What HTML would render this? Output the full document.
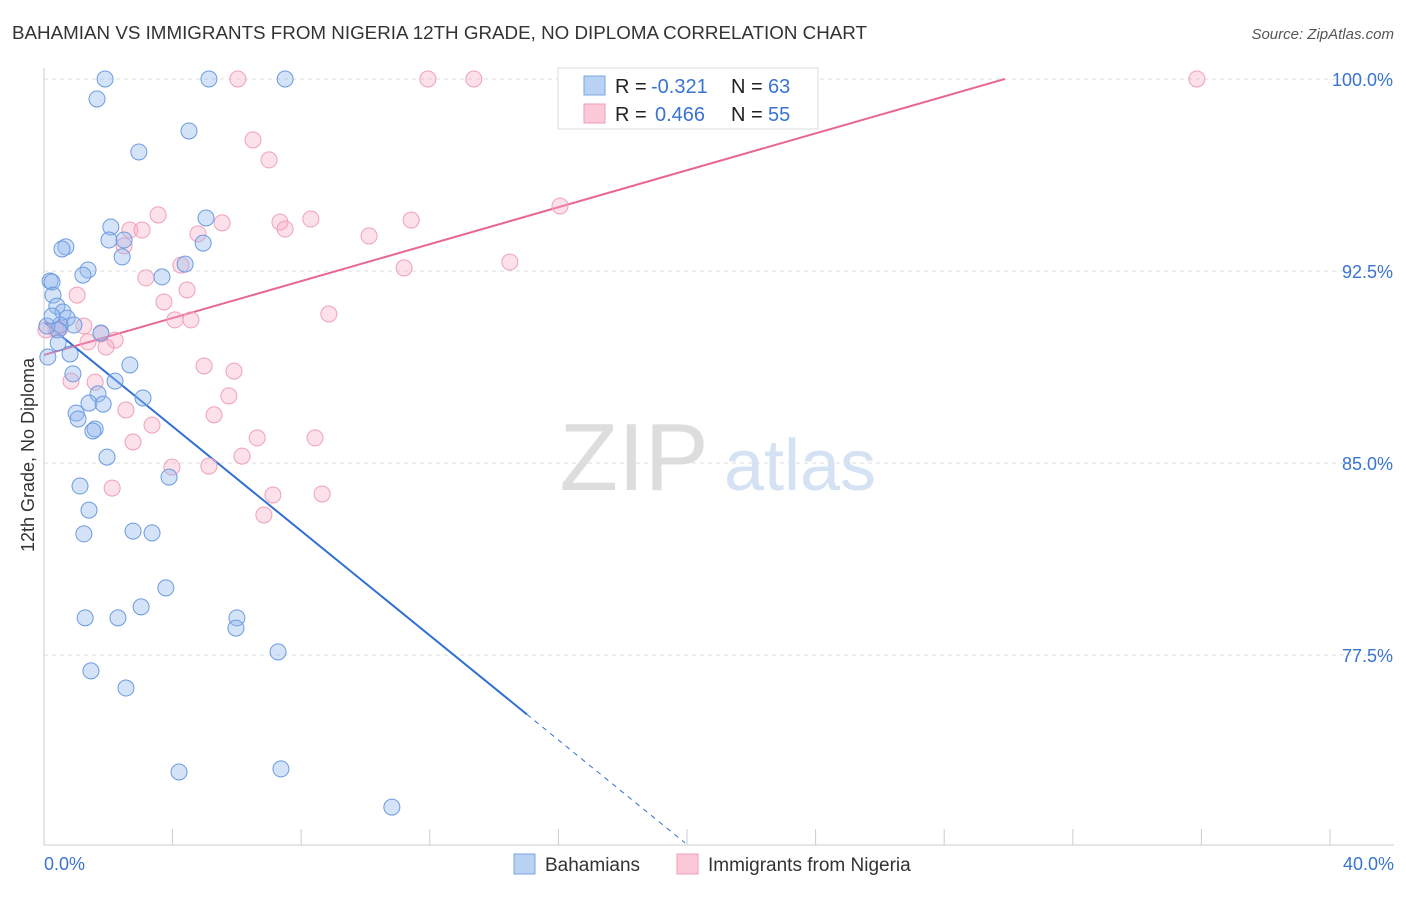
<!DOCTYPE html>
<html><head><meta charset="utf-8"><style>
body{margin:0;background:#fff;font-family:"Liberation Sans",sans-serif}
svg text{font-family:"Liberation Sans",sans-serif}
</style></head><body>
<svg id="chart" width="1406" height="892" viewBox="0 0 1406 892" xmlns="http://www.w3.org/2000/svg">
<text x="12" y="39" font-size="18" fill="#333" textLength="855" lengthAdjust="spacingAndGlyphs">BAHAMIAN VS IMMIGRANTS FROM NIGERIA 12TH GRADE, NO DIPLOMA CORRELATION CHART</text>
<text x="1394" y="39" font-size="15" fill="#555" text-anchor="end" font-style="italic">Source: ZipAtlas.com</text>
<g>
<text x="634" y="490" font-size="96" fill="#ddd" font-family="Liberation Serif" text-anchor="middle">ZIP</text>
<text x="800" y="490" font-size="72" fill="#d4e2f4" text-anchor="middle">atlas</text>
</g>
<g id="grid"></g><g id="axes"></g><g id="lines"></g><g id="pts"></g>
<text transform="translate(34,455) rotate(-90)" font-size="18" fill="#333" text-anchor="middle">12th Grade, No Diploma</text>
<g>
<rect x="558" y="68" width="260" height="61" fill="#fff" stroke="#ddd"/>
<rect x="584" y="76" width="21" height="19" fill="#b9d1f3" stroke="#7aa6e6"/>
<rect x="584" y="104" width="21" height="19" fill="#fcc9d8" stroke="#f09ab4"/>
<text x="615" y="93" font-size="20" fill="#222">R =</text>
<text x="651" y="93" font-size="20" fill="#3a74d0">-0.321</text>
<text x="731" y="93" font-size="20" fill="#222">N =</text>
<text x="768" y="93" font-size="20" fill="#3a74d0">63</text>
<text x="615" y="121" font-size="20" fill="#222">R =</text>
<text x="655" y="121" font-size="20" fill="#3a74d0">0.466</text>
<text x="731" y="121" font-size="20" fill="#222">N =</text>
<text x="768" y="121" font-size="20" fill="#3a74d0">55</text>
</g>
<g>
<rect x="514" y="854" width="21" height="20" fill="#b9d1f3" stroke="#7aa6e6"/>
<text x="545" y="871" font-size="19" fill="#333">Bahamians</text>
<rect x="677" y="854" width="21" height="20" fill="#fcc9d8" stroke="#f09ab4"/>
<text x="708" y="871" font-size="19" fill="#333">Immigrants from Nigeria</text>
</g>
</svg>
<script>
const xTicks=[0,4,8,12,16,20,24,28,32,36,40];
const yTicks=[77.5,85,92.5,100];
const yTickLabels=["77.5%","85.0%","92.5%","100.0%"];
const xTickLabels=["0.0%","40.0%"];
const bahX=[1.90,5.13,7.50,1.65,4.51,2.95,5.04,2.08,2.02,2.49,4.95,0.68,0.56,2.43,1.37,1.21,3.67,4.39,0.19,0.25,0.28,0.40,0.59,0.72,0.93,0.50,0.44,1.77,0.44,0.81,0.12,2.67,0.90,2.21,1.68,3.08,1.40,1.84,1.00,1.06,1.59,1.52,1.96,3.89,1.12,1.40,2.77,3.36,1.24,3.79,3.02,1.28,2.30,6.00,5.97,7.28,1.46,2.55,4.20,7.37,10.82,0.09,0.25];
const bahY=[100,100,100,99.22,97.97,97.15,94.57,94.22,93.71,93.71,93.59,93.44,93.36,93.05,92.54,92.34,92.27,92.77,92.11,92.07,91.56,91.13,90.90,90.66,90.39,90.39,90.20,90.08,89.69,89.26,89.14,88.83,88.48,88.20,87.70,87.54,87.34,87.30,86.95,86.72,86.33,86.25,85.23,84.45,84.10,83.16,82.34,82.27,82.23,80.12,79.38,78.95,78.95,78.95,78.55,77.62,76.88,76.21,72.93,73.05,71.56,90.35,90.74];
const nigX=[6.03,11.94,13.37,16.67,35.86,6.50,7.00,16.05,3.55,7.34,8.30,11.42,5.54,7.50,4.79,2.67,3.05,10.11,2.49,4.26,11.20,14.49,3.17,4.45,1.03,3.73,8.86,4.07,4.57,1.24,0.50,1.77,2.21,1.37,1.93,0.37,4.98,5.91,0.84,1.59,5.75,2.55,5.29,3.36,6.63,8.43,2.77,6.16,3.98,5.13,2.12,7.12,8.65,6.84,0.06];
const nigY=[100,100,100,100,100,97.62,96.84,95.04,94.69,94.41,94.53,94.49,94.38,94.14,93.95,94.10,94.10,93.87,93.48,92.73,92.62,92.85,92.23,91.76,91.56,91.29,90.82,90.59,90.59,90.35,90.27,90.04,89.80,89.73,89.53,90.20,88.79,88.59,88.20,88.16,87.62,87.07,86.88,86.48,85.98,85.98,85.82,85.27,84.84,84.88,84.02,83.75,83.79,82.97,90.20];
const bahFit=[90.51,-1.0206]; const bahSolidEnd=15.02; const bahDashEnd=19.94;
const nigFit=[89.22,0.3607]; const nigEnd=29.89;
const X=v=>44+v*32.15, Y=v=>79+(100-v)*25.6;
const NS="http://www.w3.org/2000/svg";
function mk(t,a,p){const e=document.createElementNS(NS,t);for(const k in a)e.setAttribute(k,a[k]);p.appendChild(e);return e;}
const grid=document.getElementById('grid'),axes=document.getElementById('axes'),lines=document.getElementById('lines'),pts=document.getElementById('pts');
yTicks.forEach((t,i)=>{const l=mk('line',{x1:44,x2:1394,y1:Y(t),y2:Y(t),stroke:'#ddd','stroke-dasharray':'4,4'},grid);


const tx=mk('text',{x:1393,y:Y(t)+7,'font-size':18,fill:'#3a74d0','text-anchor':'end'},axes);tx.textContent=yTickLabels[i];

});
const ax=mk('line',{x1:44,x2:1394,y1:845,y2:845,stroke:'#ccc'},axes);


const ay=mk('line',{x1:44,x2:44,y1:68,y2:845,stroke:'#ccc'},axes);


xTicks.forEach(t=>{const l=mk('line',{x1:X(t),x2:X(t),y1:829,y2:845,stroke:'#ccc'},axes);

});
[[0,'start',44],[1,'end',1394]].forEach(([i,a,x])=>{const tx=mk('text',{x:x,y:870,'font-size':18,fill:'#3a74d0','text-anchor':a},axes);tx.textContent=xTickLabels[i];

});
function drawPts(xs,ys,fill,stroke,name){xs.forEach((x,i)=>{const c=mk('circle',{cx:X(x),cy:Y(ys[i]),r:8,fill:fill,stroke:stroke,'stroke-width':1},pts);

});}
drawPts(nigX,nigY,'rgba(248,170,195,0.35)','#f0a0b8','nigeria-point');
drawPts(bahX,bahY,'rgba(150,185,238,0.4)','#6a9be0','bahamian-point');
const f=(fit,x)=>fit[0]+fit[1]*x;
let l1=mk('line',{x1:X(0),y1:Y(f(bahFit,0)),x2:X(bahSolidEnd),y2:Y(f(bahFit,bahSolidEnd)),stroke:'#2f6fd6','stroke-width':2},lines);


let l2=mk('line',{x1:X(bahSolidEnd),y1:Y(f(bahFit,bahSolidEnd)),x2:X(bahDashEnd),y2:Y(f(bahFit,bahDashEnd)),stroke:'#2f6fd6','stroke-width':1,'stroke-dasharray':'5,5'},lines);


let l3=mk('line',{x1:X(0),y1:Y(f(nigFit,0)),x2:X(nigEnd),y2:Y(f(nigFit,nigEnd)),stroke:'#e8668f','stroke-width':2},lines);


</script>
</body></html>
